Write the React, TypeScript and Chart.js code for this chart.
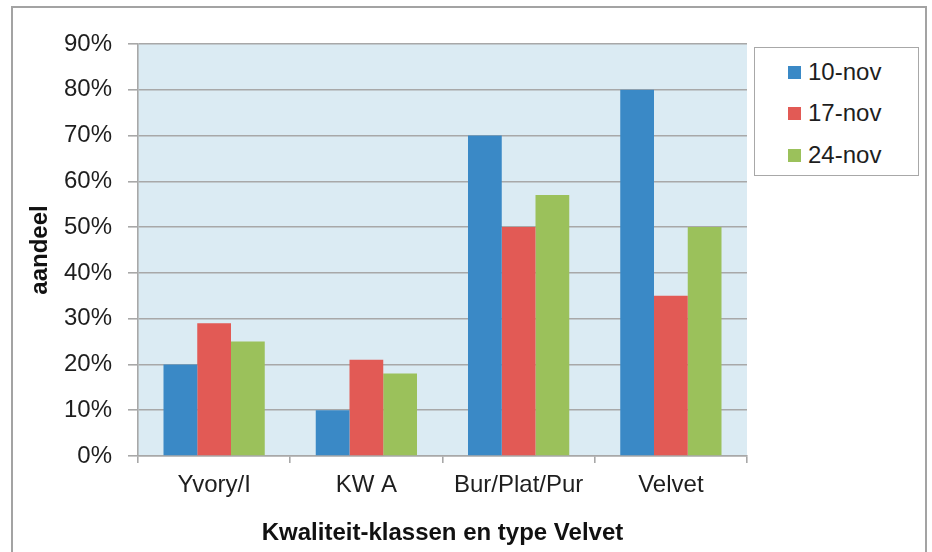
import React, { useEffect, useRef } from "react";
import { Chart, registerables } from "chart.js";

Chart.register(...registerables);

const categories = ["Yvory/I", "KW A", "Bur/Plat/Pur", "Velvet"];
const seriesLabels = ["10-nov", "17-nov", "24-nov"];
const nov10 = [20, 10, 70, 80];
const nov17 = [29, 21, 50, 35];
const nov24 = [25, 18, 57, 50];
const seriesColors = ["#3A89C6", "#E25A55", "#9BC15B"];
const yTicks = [0, 10, 20, 30, 40, 50, 60, 70, 80, 90];

const FONT = "'Liberation Sans', Arial, Helvetica, sans-serif";

export default function App() {
  const ref = useRef<HTMLCanvasElement | null>(null);

  useEffect(() => {
    const canvas = ref.current;
    if (!canvas) return;
    const bgPlugin = {
      id: "bg",
      beforeDraw(chart: any) {
        const { ctx, chartArea } = chart;
        ctx.save();
        ctx.fillStyle = "#ffffff";
        ctx.fillRect(0, 0, chart.width, chart.height);
        ctx.strokeStyle = "#A3A3A3";
        ctx.lineWidth = 2;
        ctx.strokeRect(12, 7, 914, 600);
        ctx.fillStyle = "#DBEBF3";
        ctx.fillRect(chartArea.left, chartArea.top, chartArea.right - chartArea.left, chartArea.bottom - chartArea.top);
        ctx.restore();
      },
    };
    const data = [nov10, nov17, nov24];
    const chart = new Chart(canvas, {
      type: "bar",
      data: {
        labels: categories,
        datasets: seriesLabels.map((l, i) => ({
          label: l,
          data: data[i],
          backgroundColor: seriesColors[i],
          borderWidth: 0,
          barPercentage: 1,
          categoryPercentage: 0.665,
        })),
      },
      options: {
        responsive: false,
        animation: false,
        layout: { padding: { left: 0, top: 44, right: 185, bottom: 0 } },
        plugins: { legend: { display: false }, tooltip: { enabled: false } },
        scales: {
          y: {
            min: 0,
            max: 90,
            afterBuildTicks(scale: any) {
              scale.ticks = yTicks.map((v) => ({ value: v }));
            },
            afterFit(scale: any) {
              scale.width = 138;
            },
            ticks: {
              padding: 16,
              color: "#1e1e1e",
              font: { family: FONT, size: 24 },
              callback: (v: any) => v + "%",
            },
            grid: { color: "#A8A8A8", lineWidth: 1.6, tickLength: 10 },
            border: { color: "#A8A8A8", width: 1.6 },
            title: {
              display: true,
              text: "aandeel",
              color: "#111",
              font: { family: FONT, size: 24, weight: "bold" },
              padding: { top: 26, bottom: 0 },
            },
          },
          x: {
            afterFit(scale: any) {
              scale.height = 96;
            },
            ticks: {
              padding: 8,
              color: "#1e1e1e",
              font: { family: FONT, size: 24 },
            },
            grid: { drawOnChartArea: false, color: "#A8A8A8", lineWidth: 1.6, tickLength: 7 },
            border: { color: "#A8A8A8", width: 1.6 },
            title: {
              display: true,
              text: "Kwaliteit-klassen en type Velvet",
              color: "#111",
              font: { family: FONT, size: 24, weight: "bold" },
              padding: { top: 0, bottom: 4 },
            },
          },
        },
      },
      plugins: [bgPlugin],
    } as any);
    return () => chart.destroy();
  }, []);

  const rowCenters = [72, 113, 155];
  return (
    <div style={{ position: "absolute", left: 0, top: 0, width: 932, height: 552, overflow: "hidden", background: "#fff" }}>
      <canvas ref={ref} width={932} height={552} style={{ position: "absolute", left: 0, top: 0, width: 932, height: 552 }} />
      <div
        style={{
          position: "absolute",
          left: 754,
          top: 47,
          width: 163,
          height: 127,
          border: "1.6px solid #A8A8A8",
          background: "#fff",
        }}
      />
      {seriesLabels.map((l, i) => (
        <div
          key={l}
          style={{
            position: "absolute",
            left: 788,
            top: rowCenters[i] - 15,
            height: 30,
            display: "flex",
            alignItems: "center",
            fontFamily: FONT,
            fontSize: 24,
            color: "#1e1e1e",
            whiteSpace: "nowrap",
          }}
        >
          <span style={{ display: "inline-block", width: 13, height: 13, background: seriesColors[i], marginRight: 7 }} />
          <span>{l}</span>
        </div>
      ))}
    </div>
  );
}
